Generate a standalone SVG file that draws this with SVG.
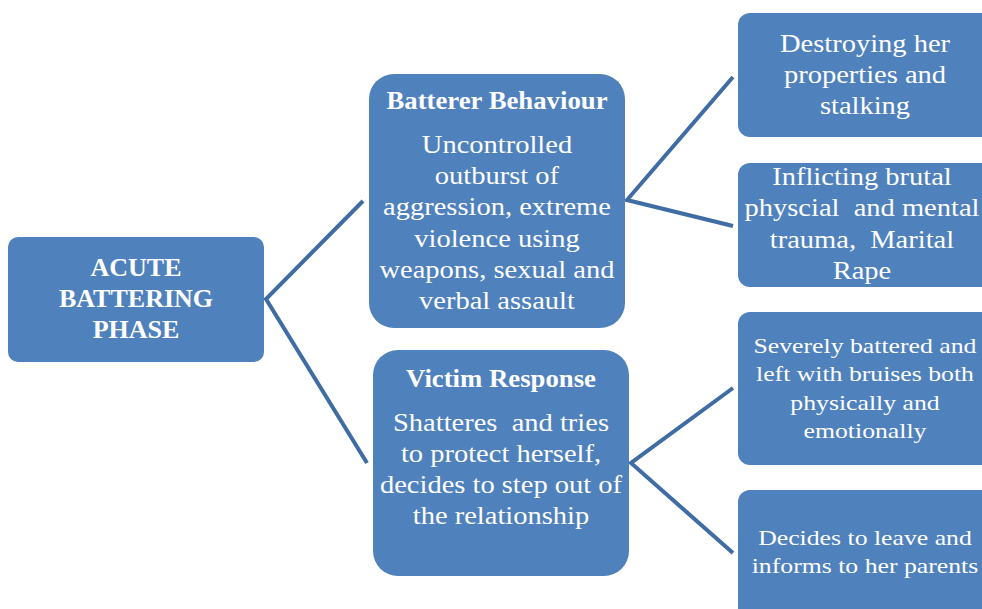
<svg xmlns="http://www.w3.org/2000/svg" width="982" height="609" viewBox="0 0 982 609">
<style>
.box{fill:#4F81BD;}
.t{font-family:"Liberation Serif","Times New Roman",serif;fill:#FFFFFF;text-anchor:middle;font-size:25px;}
.b{font-weight:bold;}
.s{font-size:22px;}
.c{fill:none;stroke:#3E6CA3;stroke-width:4;stroke-linejoin:miter;}
</style>
<rect width="982" height="609" fill="#FFFFFF"/>
<g id="connectors">
<polyline class="c" points="363,201 266,299 367,463"/>
<polyline class="c" points="733,77 627,200 733,226"/>
<polyline class="c" points="733,388 631,463 733,553"/>
</g>
<g id="acute">
<rect class="box" x="8" y="237" width="256" height="125" rx="10"/>
<g transform="matrix(1.04,0,0,1,-5.44,0)">
<text class="t b" x="136" y="276">ACUTE</text>
<text class="t b" x="136" y="307">BATTERING</text>
<text class="t b" x="136" y="338">PHASE</text>
</g>
</g>
<g id="batterer">
<rect class="box" x="369" y="74" width="256" height="254" rx="25"/>
<text class="t b" x="497" y="109" transform="matrix(1.07,0,0,1,-34.79,0)">Batterer Behaviour</text>
<g transform="matrix(1.14,0,0,1,-69.58,0)">
<text class="t" x="497" y="153">Uncontrolled</text>
<text class="t" x="497" y="184">outburst of</text>
<text class="t" x="497" y="215">aggression, extreme</text>
<text class="t" x="497" y="247">violence using</text>
<text class="t" x="497" y="278">weapons, sexual and</text>
<text class="t" x="497" y="309">verbal assault</text>
</g>
</g>
<g id="victim">
<rect class="box" x="373" y="350" width="256" height="226" rx="25"/>
<text class="t b" x="501" y="387" transform="matrix(1.07,0,0,1,-35.07,0)">Victim Response</text>
<g transform="matrix(1.14,0,0,1,-70.14,0)">
<text class="t" x="501" y="431" xml:space="preserve">Shatteres  and tries</text>
<text class="t" x="501" y="462">to protect herself,</text>
<text class="t" x="501" y="493">decides to step out of</text>
<text class="t" x="501" y="524">the relationship</text>
</g>
</g>
<g id="destroying">
<rect class="box" x="738" y="13" width="260" height="124" rx="12"/>
<g transform="matrix(1.14,0,0,1,-121.1,0)">
<text class="t" x="865" y="52">Destroying her</text>
<text class="t" x="865" y="83">properties and</text>
<text class="t" x="865" y="114">stalking</text>
</g>
</g>
<g id="inflicting">
<rect class="box" x="738" y="163" width="260" height="124" rx="12"/>
<g transform="matrix(1.14,0,0,1,-120.68,0)">
<text class="t" x="862" y="185">Inflicting brutal</text>
<text class="t" x="862" y="216" xml:space="preserve">physcial  and mental</text>
<text class="t" x="862" y="248" xml:space="preserve">trauma,  Marital</text>
<text class="t" x="862" y="279">Rape</text>
</g>
</g>
<g id="severely">
<rect class="box" x="738" y="312" width="260" height="153" rx="12"/>
<g transform="matrix(1.17,0,0,1,-147.05,0)">
<text class="t s" x="865" y="353">Severely battered and</text>
<text class="t s" x="865" y="381">left with bruises both</text>
<text class="t s" x="865" y="410">physically and</text>
<text class="t s" x="865" y="438">emotionally</text>
</g>
</g>
<g id="decides">
<rect class="box" x="738" y="490" width="260" height="140" rx="12"/>
<g transform="matrix(1.17,0,0,1,-147.05,0)">
<text class="t s" x="865" y="545">Decides to leave and</text>
<text class="t s" x="865" y="573">informs to her parents</text>
</g>
</g>
</svg>
